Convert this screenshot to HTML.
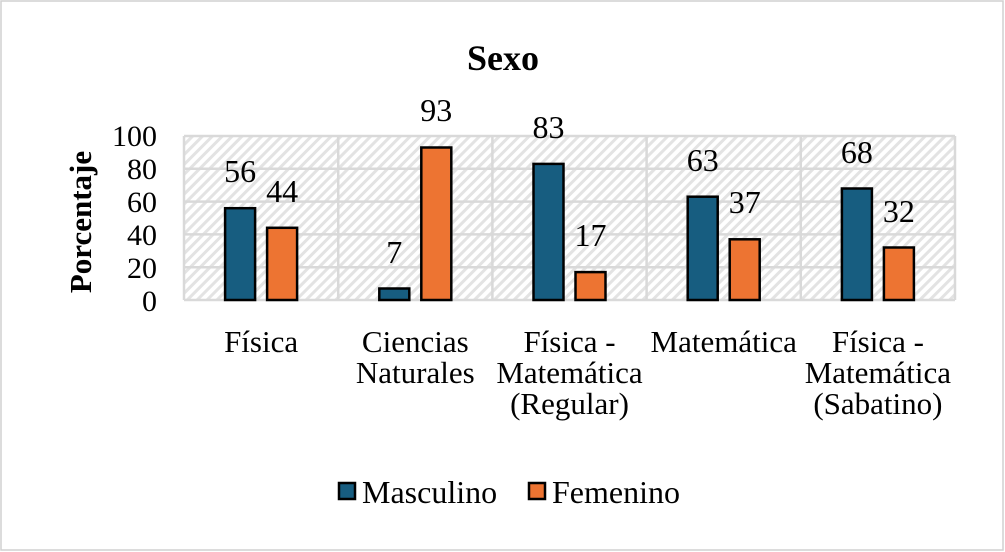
<!DOCTYPE html>
<html><head><meta charset="utf-8"><style>
html,body{margin:0;padding:0;background:#fff}
svg{display:block;font-family:"Liberation Serif",serif}
</style></head><body>
<svg width="1005" height="552" viewBox="0 0 1005 552" xmlns="http://www.w3.org/2000/svg">
<defs>
<pattern id="h" width="7" height="7" patternUnits="userSpaceOnUse" patternTransform="rotate(45)">
<rect width="7" height="7" fill="#fff"/>
<rect width="3" height="7" fill="#e3e3e3"/>
</pattern>
</defs>
<rect x="1" y="1" width="1002" height="549" fill="#fff" stroke="#d0d0d0" stroke-width="1.5"/>
<text x="503" y="70" text-anchor="middle" font-size="36" font-weight="bold">Sexo</text>
<rect x="184" y="136" width="771" height="164" fill="url(#h)"/>
<g stroke="#d9d9d9" stroke-width="2.5" fill="none">
<line x1="184" y1="136" x2="955" y2="136"/>
<line x1="184" y1="168.8" x2="955" y2="168.8"/>
<line x1="184" y1="201.6" x2="955" y2="201.6"/>
<line x1="184" y1="234.4" x2="955" y2="234.4"/>
<line x1="184" y1="267.2" x2="955" y2="267.2"/>
<line x1="184" y1="300" x2="955" y2="300"/>
<line x1="184" y1="136" x2="184" y2="300"/>
<line x1="338.2" y1="136" x2="338.2" y2="300"/>
<line x1="492.4" y1="136" x2="492.4" y2="300"/>
<line x1="646.6" y1="136" x2="646.6" y2="300"/>
<line x1="800.8" y1="136" x2="800.8" y2="300"/>
<line x1="955" y1="136" x2="955" y2="300"/>
</g>
<g font-size="30" text-anchor="end">
<text x="157" y="146">100</text>
<text x="157" y="179">80</text>
<text x="157" y="212">60</text>
<text x="157" y="245">40</text>
<text x="157" y="278">20</text>
<text x="157" y="311">0</text>
</g>
<text transform="translate(91,222) rotate(-90)" text-anchor="middle" font-size="31" font-weight="bold">Porcentaje</text>
<g stroke="#000" stroke-width="2.5">
<rect x="225.1" y="208.2" width="30" height="91.8" fill="#175d80"/>
<rect x="267.1" y="227.8" width="30" height="72.2" fill="#ed7432"/>
<rect x="379.3" y="288.5" width="30" height="11.5" fill="#175d80"/>
<rect x="421.3" y="147.5" width="30" height="152.5" fill="#ed7432"/>
<rect x="533.5" y="163.9" width="30" height="136.1" fill="#175d80"/>
<rect x="575.5" y="272.1" width="30" height="27.9" fill="#ed7432"/>
<rect x="687.7" y="196.7" width="30" height="103.3" fill="#175d80"/>
<rect x="729.7" y="239.3" width="30" height="60.7" fill="#ed7432"/>
<rect x="841.9" y="188.5" width="30" height="111.5" fill="#175d80"/>
<rect x="883.9" y="247.5" width="30" height="52.5" fill="#ed7432"/>
</g>
<g font-size="32" text-anchor="middle">
<text x="240.1" y="182">56</text>
<text x="282.1" y="202">44</text>
<text x="394.3" y="263">7</text>
<text x="436.3" y="121">93</text>
<text x="548.5" y="138">83</text>
<text x="590.5" y="246">17</text>
<text x="702.7" y="171">63</text>
<text x="744.7" y="213">37</text>
<text x="856.9" y="163">68</text>
<text x="898.9" y="222">32</text>
</g>
<g font-size="31" text-anchor="middle">
<text x="261.1" y="352">Física</text>
<text x="415.3" y="352">Ciencias</text>
<text x="415.3" y="383">Naturales</text>
<text x="569.5" y="352">Física -</text>
<text x="569.5" y="383">Matemática</text>
<text x="569.5" y="414">(Regular)</text>
<text x="723.7" y="352">Matemática</text>
<text x="877.9" y="352">Física -</text>
<text x="877.9" y="383">Matemática</text>
<text x="877.9" y="414">(Sabatino)</text>
</g>
<rect x="339" y="483" width="16" height="16" fill="#175d80" stroke="#000" stroke-width="2.5"/>
<text x="362" y="503" font-size="32">Masculino</text>
<rect x="529" y="483" width="16" height="16" fill="#ed7432" stroke="#000" stroke-width="2.5"/>
<text x="552" y="503" font-size="32">Femenino</text>
</svg>
</body></html>
